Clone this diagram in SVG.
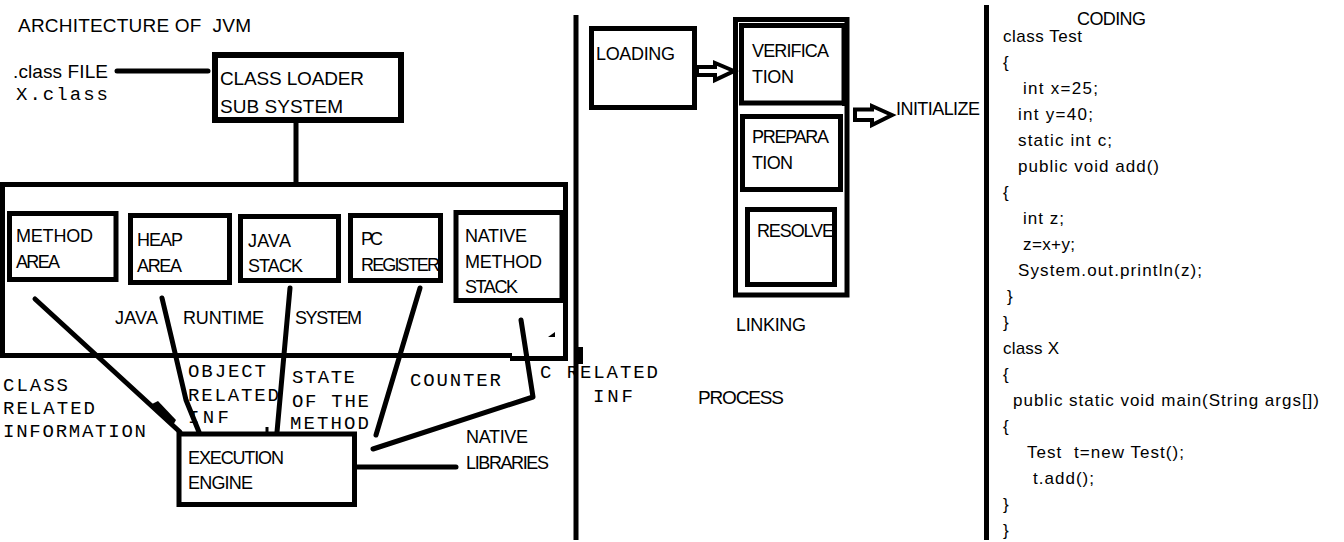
<svg xmlns="http://www.w3.org/2000/svg" width="1344" height="542" viewBox="0 0 1344 542">
<style>
text{fill:#000;white-space:pre}
.s{font-family:"Liberation Sans",Arial,sans-serif;font-size:18px}
.t{font-family:"Liberation Sans",Arial,sans-serif;font-size:19px}
.k{font-family:"Liberation Sans",Arial,sans-serif;font-size:17px}
.m{font-family:"Liberation Mono","Courier New",monospace;font-size:19px}
.box{fill:none;stroke:#000;stroke-width:5}
.ln{fill:none;stroke:#000;stroke-width:5;stroke-linecap:round;stroke-linejoin:round}
.arr{fill:#fff;stroke:#000;stroke-width:4;stroke-linejoin:miter}
</style>
<rect width="1344" height="542" fill="#fff"/>

<g id="title"><text class="t" x="18" y="32" textLength="233">ARCHITECTURE OF  JVM</text></g>

<g id="class-file">
<text class="t" x="13" y="78" textLength="95">.class FILE</text>
<text class="m" x="16" y="100" textLength="92">X.class</text>
</g>

<g id="class-loader">
<rect class="box" x="215" y="55" width="186" height="65" style="stroke-width:6"/>
<text class="t" x="220" y="85" textLength="144">CLASS LOADER</text>
<text class="t" x="220" y="113" textLength="123">SUB SYSTEM</text>
</g>

<g id="runtime">
<path class="box" d="M0 184.5H565.5M565.5 182V358M2.5 182V358M0 355.5H512M510 358.5H568"/>
<polygon points="548,337 555,332 555,337" fill="#000"/>
<text class="s" x="115" y="324" textLength="43">JAVA</text>
<text class="s" x="183" y="324" textLength="81">RUNTIME</text>
<text class="s" x="295" y="324" textLength="67">SYSTEM</text>
</g>

<g id="method-area">
<rect class="box" x="9.5" y="213.5" width="106.5" height="66"/>
<text class="s" x="16" y="242" textLength="77">METHOD</text>
<text class="s" x="16" y="268" textLength="44">AREA</text>
</g>

<g id="heap-area">
<rect class="box" x="130.5" y="215.5" width="99" height="67"/>
<text class="s" x="137" y="246" textLength="46">HEAP</text>
<text class="s" x="137" y="272" textLength="45">AREA</text>
</g>

<g id="java-stack">
<rect class="box" x="240.5" y="216.5" width="98" height="64"/>
<text class="s" x="248" y="247" textLength="43">JAVA</text>
<text class="s" x="248" y="272" textLength="55">STACK</text>
</g>

<g id="pc-register">
<rect class="box" x="350.5" y="215.5" width="90" height="65"/>
<text class="s" x="361" y="245" textLength="22">PC</text>
<text class="s" x="361" y="271" textLength="79">REGISTER</text>
</g>

<g id="native-method-stack">
<rect class="box" x="456" y="212.5" width="107" height="88"/>
<line x1="563" y1="210" x2="563" y2="303" stroke="#000" stroke-width="7"/>
<text class="s" x="465" y="242" textLength="62">NATIVE</text>
<text class="s" x="465" y="268" textLength="77">METHOD</text>
<text class="s" x="465" y="293" textLength="53">STACK</text>
</g>

<g id="labels-mono">
<text class="m" x="3" y="391" textLength="65">CLASS</text>
<text class="m" x="3" y="414" textLength="92">RELATED</text>
<text class="m" x="3" y="437" textLength="143">INFORMATION</text>
<text class="m" x="188" y="377" textLength="78">OBJECT</text>
<text class="m" x="188" y="401" textLength="91">RELATED</text>
<text class="m" x="188" y="423" textLength="41">INF</text>
<text class="m" x="292" y="383" textLength="63">STATE</text>
<text class="m" x="292" y="407" textLength="77">OF THE</text>
<text class="m" x="290" y="429" textLength="79">METHOD</text>
<text class="m" x="410" y="386" textLength="91">COUNTER</text>
<text class="m" x="540" y="378" textLength="118">C RELATED</text>
<text class="m" x="593" y="402" textLength="40">INF</text>
</g>

<g id="execution-engine">
<rect class="box" x="179" y="434" width="175.5" height="70.5"/>
<text class="s" x="188" y="464" textLength="96">EXECUTION</text>
<text class="s" x="188" y="489" textLength="65">ENGINE</text>
</g>

<g id="native-libraries">
<text class="s" x="466" y="443" textLength="62">NATIVE</text>
<text class="s" x="466" y="469" textLength="83">LIBRARIES</text>
</g>

<g id="connectors">
<line class="ln" x1="117" y1="71" x2="208" y2="71"/>
<line class="ln" x1="296" y1="123" x2="296" y2="182"/>
<line class="ln" x1="35" y1="299" x2="180" y2="432"/>
<polygon points="150,405 158,401 176,420 172,427" fill="#000"/>
<polyline class="ln" points="162,298 172,340 186,400 199,432"/>
<line class="ln" x1="290" y1="288" x2="277" y2="432"/>
<line x1="267" y1="427" x2="267" y2="434" stroke="#000" stroke-width="3"/>
<line class="ln" x1="420" y1="288" x2="376" y2="435"/>
<polyline class="ln" points="521,320 533,397 373,449"/>
<line class="ln" x1="357" y1="467" x2="456" y2="467"/>
<polygon class="arr" points="697,67 715,67 715,63 734,71 715,80 715,75 697,75"/>
<polygon class="arr" points="855,109.5 872,109.5 872,106 892,115 872,125 872,120 855,120"/>
</g>

<g id="dividers">
<line x1="576" y1="15" x2="576" y2="540" stroke="#000" stroke-width="5"/>
<rect x="575" y="347" width="8" height="17" fill="#000"/>
<line x1="986.5" y1="5" x2="986.5" y2="540" stroke="#000" stroke-width="5"/>
</g>

<g id="loading">
<rect class="box" x="591.5" y="28.5" width="103" height="79"/>
<text class="s" x="596" y="60" textLength="79">LOADING</text>
</g>

<g id="linking">
<rect class="box" x="735.5" y="19.5" width="111.5" height="275.5"/>
<text class="s" x="736" y="331" textLength="70">LINKING</text>
</g>

<g id="verification">
<rect class="box" x="741.5" y="25.5" width="102.5" height="77.5"/>
<line x1="845" y1="23" x2="845" y2="106" stroke="#000" stroke-width="6"/>
<text class="s" x="752" y="57" textLength="77">VERIFICA</text>
<text class="s" x="752" y="83" textLength="42">TION</text>
</g>

<g id="preparation">
<rect class="box" x="742.5" y="116.5" width="98" height="73"/>
<text class="s" x="752" y="143" textLength="77">PREPARA</text>
<text class="s" x="752" y="169" textLength="41">TION</text>
</g>

<g id="resolve">
<rect class="box" x="747.5" y="209.5" width="87" height="75"/>
<text class="s" x="757" y="237" textLength="77">RESOLVE</text>
</g>

<g id="initialize"><text class="s" x="896" y="115" textLength="84">INITIALIZE</text></g>

<g id="process"><text class="s" x="698" y="404" textLength="86" style="font-size:19px">PROCESS</text></g>

<g id="coding">
<text class="s" x="1077" y="25" textLength="69">CODING</text>
<text class="k" x="1003" y="42" textLength="79">class Test</text>
<text class="k" x="1003" y="68">{</text>
<text class="k" x="1023" y="94" textLength="75">int x=25;</text>
<text class="k" x="1018" y="120" textLength="75">int y=40;</text>
<text class="k" x="1018" y="146" textLength="94">static int c;</text>
<text class="k" x="1018" y="172" textLength="141">public void add()</text>
<text class="k" x="1003" y="198">{</text>
<text class="k" x="1023" y="224" textLength="41">int z;</text>
<text class="k" x="1023" y="250" textLength="52">z=x+y;</text>
<text class="k" x="1018" y="276" textLength="184">System.out.println(z);</text>
<text class="k" x="1007" y="302">}</text>
<text class="k" x="1003" y="328">}</text>
<text class="k" x="1003" y="354" textLength="56">class X</text>
<text class="k" x="1003" y="380">{</text>
<text class="k" x="1013" y="406" textLength="306">public static void main(String args[])</text>
<text class="k" x="1003" y="432">{</text>
<text class="k" x="1027" y="458" textLength="157">Test  t=new Test();</text>
<text class="k" x="1033" y="484" textLength="61">t.add();</text>
<text class="k" x="1003" y="510">}</text>
<text class="k" x="1003" y="536">}</text>
</g>
</svg>
